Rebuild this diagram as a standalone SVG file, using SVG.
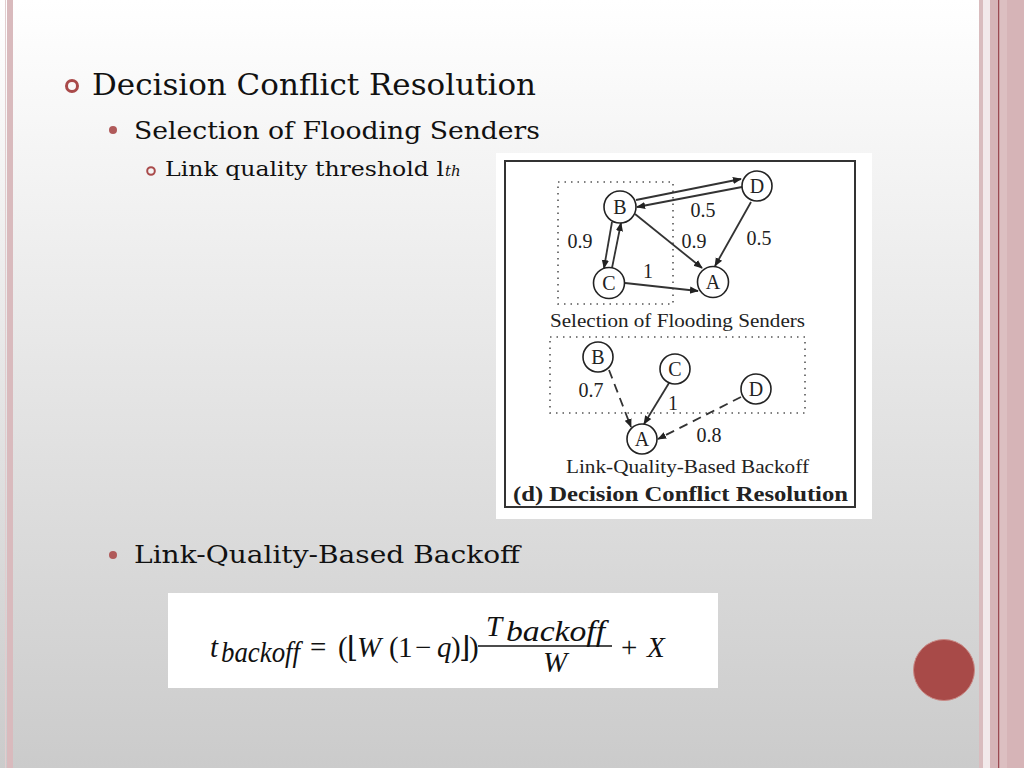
<svg xmlns="http://www.w3.org/2000/svg" width="1024" height="768" viewBox="0 0 1024 768">
<defs>
<linearGradient id="bg" x1="0" y1="0" x2="0" y2="1">
<stop offset="0" stop-color="#ffffff"/>
<stop offset="1" stop-color="#cbcbcb"/>
</linearGradient>
<marker id="ah" viewBox="0 0 10 10" refX="9" refY="5" markerWidth="9" markerHeight="9" markerUnits="userSpaceOnUse" orient="auto">
<path d="M0,1 L10,5 L0,9 z" fill="#222"/>
</marker>
<style>
.slide{font-family:"DejaVu Serif",serif;fill:#111}
.fig{font-family:"Liberation Serif","Times New Roman",serif;fill:#222}
.node circle{fill:#fff;stroke:#222;stroke-width:1.6}
.node text{font-family:"Liberation Serif",serif;font-size:20px;fill:#222;text-anchor:middle}
.edge{stroke:#333;stroke-width:1.8;fill:none;marker-end:url(#ah)}
.dash{stroke-dasharray:9,6}
.dot{stroke:#555;stroke-width:1.6;fill:none;stroke-dasharray:1.5,5}
.lbl{font-family:"Liberation Serif",serif;font-size:20px;fill:#222;text-anchor:middle}
.m{font-family:"Liberation Serif","DejaVu Serif",serif;font-size:29px;fill:#111}
.mi{font-style:italic}
</style>
</defs>
<rect x="0" y="0" width="1024" height="768" fill="url(#bg)"/>
<!-- left stripes -->
<rect x="5" y="0" width="1" height="768" fill="#e2cdcf"/>
<rect x="7" y="0" width="6" height="768" fill="#d9babd"/>
<!-- right stripes -->
<rect x="979" y="0" width="4" height="768" fill="#d9bcbe"/>
<rect x="983" y="0" width="7" height="768" fill="#f2e9ea"/>
<rect x="990" y="0" width="34" height="768" fill="#d6b4b7"/>
<rect x="998" y="0" width="1.2" height="768" fill="#9b4a52"/>
<rect x="1000" y="0" width="7" height="768" fill="#dcbfc1"/>

<!-- bullets and text -->
<g id="title">
<circle cx="72" cy="86" r="5.5" fill="none" stroke="#a94a4a" stroke-width="3"/>
<text class="slide" x="92" y="95" font-size="29" textLength="444" lengthAdjust="spacingAndGlyphs">Decision Conflict Resolution</text>
</g>
<g id="sub1">
<circle cx="113" cy="130" r="4" fill="#b05a5a"/>
<text class="slide" x="134" y="139" font-size="25" textLength="406" lengthAdjust="spacingAndGlyphs">Selection of Flooding Senders</text>
</g>
<g id="sub1a">
<circle cx="151" cy="171" r="3.8" fill="none" stroke="#a94a4a" stroke-width="2"/>
<text class="slide" x="165" y="176" font-size="20" textLength="279" lengthAdjust="spacingAndGlyphs">Link quality threshold l</text>
<text class="slide" x="445" y="176" font-size="15" font-style="italic">th</text>
</g>
<g id="sub2">
<circle cx="113" cy="555" r="4" fill="#b05a5a"/>
<text class="slide" x="134" y="563" font-size="25" textLength="386" lengthAdjust="spacingAndGlyphs">Link-Quality-Based Backoff</text>
</g>

<!-- figure -->
<g id="figure">
<rect x="496" y="153" width="376" height="366" fill="#ffffff"/>
<rect x="505" y="161" width="350" height="346" fill="none" stroke="#333" stroke-width="2"/>
<rect class="dot" x="558" y="182" width="115" height="122"/>
<rect class="dot" x="550" y="337" width="255" height="76"/>

<g id="connectors">
<line class="edge" x1="636" y1="200" x2="741" y2="179"/>
<line class="edge" x1="742" y1="187" x2="637" y2="207"/>
<line class="edge" x1="612" y1="222" x2="604" y2="268"/>
<line class="edge" x1="612" y1="268" x2="621" y2="223"/>
<line class="edge" x1="635" y1="214" x2="702" y2="268"/>
<line class="edge" x1="751" y1="202" x2="715" y2="266"/>
<line class="edge" x1="625" y1="283" x2="698" y2="291"/>
<line class="edge dash" x1="609" y1="370" x2="631" y2="427"/>
<line class="edge" x1="669" y1="383" x2="644" y2="424"/>
<line class="edge dash" x1="741" y1="397" x2="658" y2="439"/>
</g>

<g id="nodeB1" class="node"><circle cx="620" cy="207" r="16"/><text x="620" y="214">B</text></g>
<g id="nodeD1" class="node"><circle cx="757" cy="186" r="15"/><text x="757" y="193">D</text></g>
<g id="nodeC1" class="node"><circle cx="609" cy="283" r="15.5"/><text x="609" y="290">C</text></g>
<g id="nodeA1" class="node"><circle cx="713" cy="282" r="15.5"/><text x="713" y="289">A</text></g>

<text class="lbl" x="703" y="217">0.5</text>
<text class="lbl" x="580" y="248">0.9</text>
<text class="lbl" x="694" y="248">0.9</text>
<text class="lbl" x="759" y="245">0.5</text>
<text class="lbl" x="648" y="278">1</text>
<text class="fig" x="550" y="327" font-size="19" textLength="255" lengthAdjust="spacingAndGlyphs">Selection of Flooding Senders</text>

<g id="nodeB2" class="node"><circle cx="598" cy="357" r="15"/><text x="598" y="364">B</text></g>
<g id="nodeC2" class="node"><circle cx="675" cy="369" r="15"/><text x="675" y="376">C</text></g>
<g id="nodeD2" class="node"><circle cx="756" cy="389" r="15"/><text x="756" y="396">D</text></g>
<g id="nodeA2" class="node"><circle cx="642" cy="439" r="15"/><text x="642" y="446">A</text></g>

<text class="lbl" x="591" y="397">0.7</text>
<text class="lbl" x="673" y="410">1</text>
<text class="lbl" x="709" y="442">0.8</text>
<text class="fig" x="566" y="473" font-size="19" textLength="243" lengthAdjust="spacingAndGlyphs">Link-Quality-Based Backoff</text>
<text class="fig" x="513" y="501" font-size="22" font-weight="bold" textLength="335" lengthAdjust="spacingAndGlyphs">(d) Decision Conflict Resolution</text>
</g>

<!-- formula -->
<g id="formula">
<rect x="168" y="593" width="550" height="95" fill="#ffffff"/>
<text class="m mi" x="210" y="657" font-size="31">t</text>
<text class="m mi" x="221" y="662" font-size="17" textLength="79" lengthAdjust="spacingAndGlyphs">backoff</text>
<text class="m" x="310" y="657">=</text>
<text class="m" x="338" y="657">(</text>
<text class="m" x="347" y="657" font-family="DejaVu Serif" font-size="24">⌊</text>
<text class="m mi" x="357" y="657">W</text>
<text class="m" x="389" y="657">(</text>
<text class="m" x="398" y="657">1</text>
<text class="m" x="415" y="657">−</text>
<text class="m mi" x="437" y="657">q</text>
<text class="m" x="451" y="657">)</text>
<text class="m" x="459" y="657" font-family="DejaVu Serif" font-size="24">⌋</text>
<text class="m" x="469" y="657">)</text>
<line x1="478" y1="646" x2="612" y2="646" stroke="#111" stroke-width="1.3"/>
<text class="m mi" x="486" y="636">T</text>
<text class="m mi" x="506" y="641" font-size="17" textLength="99" lengthAdjust="spacingAndGlyphs">backoff</text>
<text class="m mi" x="555" y="672" text-anchor="middle">W</text>
<text class="m" x="621" y="657">+</text>
<text class="m mi" x="647" y="657">X</text>
</g>

<circle id="dot" cx="944" cy="670" r="30.5" fill="#a84a48" stroke="#c98a86" stroke-width="1"/>
</svg>
